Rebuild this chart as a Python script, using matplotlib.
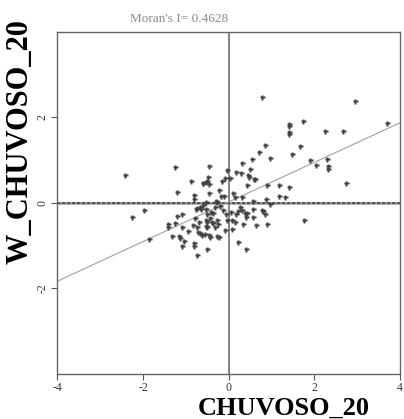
import numpy as np
import matplotlib
matplotlib.use("Agg")
import matplotlib.pyplot as plt

# standardized values
chuvoso = [
    0.79, 2.96, 3.69, 1.74, 1.40, 1.40, 1.40, 1.40, 2.25, 2.68,
    0.84, 1.67, 0.72, 1.49, 0.96, 0.55, 1.91, 2.30, 2.05, 2.33,
    2.33, 0.31, 2.73, 1.77,
    -2.41, -1.26, -0.45, -0.04, 0.18, 0.30, 0.50, 0.45, 0.47, 0.59,
    0.03, -0.09, -0.49, -0.51, -0.61, -0.47, -0.89, -0.16, 0.44, 0.89,
    1.18, 1.40, -1.21, -0.80, -0.46, -0.22, -0.17, -0.11, 0.11, 0.14,
    0.32, 0.87, 1.18, 1.32, 0.58, 0.96, -0.80, -0.30, -0.27, -0.54,
    0.61, -0.53, -0.59,
    -1.98, -2.25, -1.87, -1.21, -1.10, -1.42, -1.41, -1.25, -1.09, -1.32,
    -1.15, -1.13, -1.04, -1.10, -0.80, -0.80, -0.74, -0.50, -0.95, -0.84,
    -0.78, -0.77, -0.73, -0.68, -0.65, -0.59, -0.54, -0.51, -0.42, -0.36,
    -0.31, -0.20, -0.14, -0.53, -0.50, -0.40, -0.53, -0.50, -0.28, -0.26,
    -0.32, -0.36, -0.44, -0.69, -0.75, -0.72, -0.67, -0.63, -0.55, -0.47,
    -0.43, -0.28, -0.23, -0.03, -0.07, 0.05, 0.09, 0.16, 0.09, -0.09,
    0.18, 0.21, 0.26, 0.31, 0.39, 0.44, 0.58, 0.58, 0.40, 0.34,
    0.65, 0.78, 0.81, 0.86, 0.90, 0.23, 0.40,
]
w_chuvoso = [
    2.47, 2.39, 1.86, 1.92, 1.84, 1.79, 1.65, 1.61, 1.67, 1.67,
    1.35, 1.32, 1.18, 1.14, 1.04, 1.03, 1.01, 1.03, 0.89, 0.85,
    0.79, 0.93, 0.47, -0.40,
    0.65, 0.84, 0.86, 0.77, 0.73, 0.70, 0.79, 0.65, 0.60, 0.55,
    0.58, 0.58, 0.60, 0.52, 0.47, 0.44, 0.50, 0.50, 0.42, 0.42,
    0.42, 0.38, 0.25, 0.19, 0.23, 0.31, 0.17, 0.15, 0.23, 0.13,
    0.13, 0.10, 0.16, 0.14, 0.05, -0.02, 0.08, 0.04, 0.02, 0.01,
    0.56, 0.48, 0.46,
    -0.16, -0.33, -0.84, -0.30, -0.26, -0.50, -0.57, -0.47, -0.57, -0.77,
    -0.78, -0.83, -0.88, -1.01, -0.93, -1.01, -1.21, -1.07, -0.66, -0.51,
    -0.36, -0.14, -0.12, -0.10, -0.15, -0.05, -0.14, -0.26, -0.22, -0.24,
    -0.10, -0.08, -0.16, -0.40, -0.45, -0.45, -0.53, -0.57, -0.41, -0.49,
    -0.57, -0.47, -0.35, -0.44, -0.57, -0.68, -0.71, -0.74, -0.72, -0.76,
    -0.80, -0.77, -0.79, -0.39, -0.26, -0.22, -0.41, -0.45, -0.60, -0.64,
    -0.26, -0.18, -0.10, -0.16, -0.23, -0.23, -0.15, -0.32, -0.33, -0.49,
    -0.51, -0.16, -0.18, -0.27, -0.49, -0.92, -1.09,
]
morans_i = 0.4628
x_ticks = [-4, -2, 0, 2, 4]
y_ticks = [-2, 0, 2]

serif = "Liberation Serif"

fig = plt.figure(figsize=(4.04, 4.19), dpi=100)
ax = fig.add_axes([0.1418, 0.1074, 0.8483, 0.8169])

# quadrant lines
ax.axvline(0, color="#6e6e6e", lw=1.2, zorder=1)
ax.axhline(0, color="#9a9a9a", lw=1.8, zorder=1)
ax.axhline(0, color="#444444", lw=1.2, ls=(0, (2, 1)), zorder=1)

# regression line, slope = Moran's I
xs = np.array([-4, 4])
ax.plot(xs, morans_i * xs + 0.02, color="#a0a0a0", lw=0.8, zorder=2)

ax.plot(chuvoso, w_chuvoso, ls="none", marker="P", ms=3.6,
        color="#404040", mec="none", zorder=3)

ax.set_xlim(-4, 4)
ax.set_ylim(-4, 4)
ax.set_xticks(x_ticks)
ax.set_yticks(y_ticks)
ax.set_xticklabels([str(v) for v in x_ticks], fontfamily=serif, fontsize=8.5, color="#333333")
ax.set_yticklabels([str(v) for v in y_ticks], fontfamily=serif, fontsize=8.5, color="#333333",
                   rotation=90, va="center")
ax.tick_params(length=4, width=0.8, color="#555555", pad=2)
for s in ax.spines.values():
    s.set_color("#666666")
    s.set_linewidth(1.0)

fig.text(0.442, 0.955, "Moran's I= %.4f" % morans_i, ha="center", va="center",
         fontfamily=serif, fontsize=9.5, color="#8a8a8a")
fig.text(0.05, 0.662, "W_CHUVOSO_20", rotation=90, ha="center", va="center",
         fontfamily=serif, fontsize=22, fontweight="bold", color="black")
fig.text(0.703, 0.010, "CHUVOSO_20", ha="center", va="baseline",
         fontfamily=serif, fontsize=19, fontweight="bold", color="black")

fig.savefig("out.png", dpi=100)
